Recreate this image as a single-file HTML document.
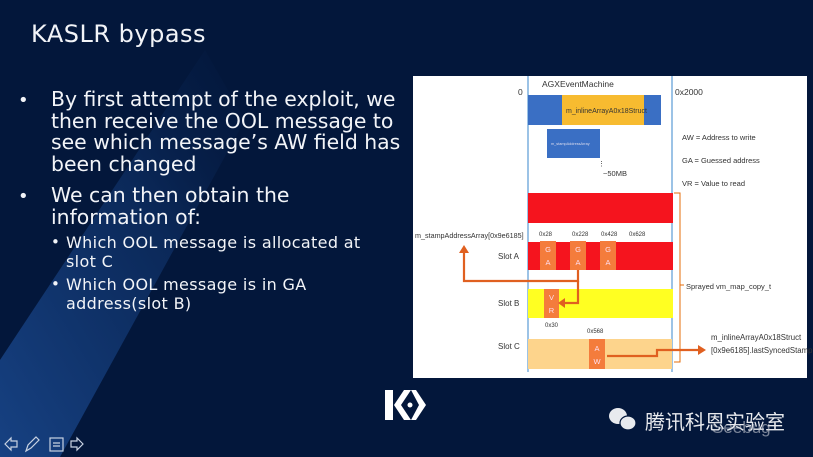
<!DOCTYPE html>
<html><head><meta charset="utf-8"><style>
html,body{margin:0;padding:0;}
body{width:813px;height:457px;overflow:hidden;background:#03173b;position:relative;font-family:"DejaVu Sans","Liberation Sans",sans-serif;}
.t{position:absolute;color:#f2f4f8;white-space:nowrap;}
.b{font-size:20.4px;line-height:21.5px;}
.s{font-size:16px;line-height:19px;letter-spacing:0.35px;}
</style></head><body>
<svg width="813" height="457" style="position:absolute;left:0;top:0">
<defs>
<linearGradient id="g" x1="0" y1="1" x2="1" y2="0">
<stop offset="0" stop-color="#1d4f9a" stop-opacity="0.75"/>
<stop offset="0.6" stop-color="#1a4a92" stop-opacity="0.35"/>
<stop offset="1" stop-color="#0b2a60" stop-opacity="0"/>
</linearGradient>
</defs>
<polygon points="205,50 245,120 60,457 0,457 0,360" fill="url(#g)"/>
</svg>
<div class="t" style="left:31px;top:20px;font-size:24px;letter-spacing:0.5px;">KASLR bypass</div>
<div class="t" style="left:18px;top:90px;font-size:18px;line-height:21.5px;">•</div>
<div class="t b" style="left:51px;top:89px;">By first attempt of the exploit, we<br>then receive the OOL message to<br>see which message’s AW field has<br>been changed</div>
<div class="t" style="left:18px;top:186px;font-size:18px;line-height:21.5px;">•</div>
<div class="t b" style="left:51px;top:185px;">We can then obtain the<br>information of:</div>
<div class="t" style="left:51px;top:233px;font-size:15px;line-height:19px;">•</div>
<div class="t s" style="left:66px;top:233px;">Which OOL message is allocated at<br>slot C</div>
<div class="t" style="left:51px;top:275px;font-size:15px;line-height:19px;">•</div>
<div class="t s" style="left:66px;top:275px;">Which OOL message is in GA<br>address(slot B)</div>

<svg width="813" height="457" style="position:absolute;left:0;top:0" font-family="Liberation Sans, sans-serif">
<rect x="413" y="76" width="394" height="302" fill="#fff"/>
<line x1="528" y1="76" x2="528" y2="372" stroke="#5b9bd5" stroke-width="1.2"/>
<line x1="672" y1="76" x2="672" y2="372" stroke="#5b9bd5" stroke-width="1.2"/>
<text x="542" y="87" font-size="8.5" fill="#333">AGXEventMachine</text>
<text x="518" y="95" font-size="8.5" fill="#333">0</text>
<text x="675" y="95" font-size="8.5" fill="#333">0x2000</text>
<rect x="528" y="95" width="133" height="30" fill="#3a6fc4"/>
<rect x="562" y="95" width="82" height="30" fill="#f7bb30"/>
<text x="566" y="113" font-size="7" fill="#333">m_inlineArrayA0x18Struct</text>
<rect x="547" y="129" width="53" height="29" fill="#3a6fc4"/>
<text x="551" y="145" font-size="3.8" fill="#dde">m_stampAddressArray</text>
<text x="598" y="166" font-size="7" fill="#333">⋮</text>
<text x="603" y="176" font-size="7.5" fill="#333">~50MB</text>
<text x="682" y="140" font-size="7.5" fill="#333">AW = Address to write</text>
<text x="682" y="163" font-size="7.5" fill="#333">GA = Guessed address</text>
<text x="682" y="186" font-size="7.5" fill="#333">VR = Value to read</text>
<rect x="528" y="193" width="145" height="30" fill="#f5141e"/>
<text x="539" y="236" font-size="6" fill="#333">0x28</text>
<text x="572" y="236" font-size="6" fill="#333">0x228</text>
<text x="601" y="236" font-size="6" fill="#333">0x428</text>
<text x="629" y="236" font-size="6" fill="#333">0x628</text>
<text x="415" y="238" font-size="7.2" fill="#333">m_stampAddressArray[0x9e6185]</text>
<rect x="528" y="242" width="145" height="28" fill="#f5141e"/>
<rect x="540" y="241" width="16" height="29" fill="#f47c3c"/>
<rect x="570" y="241" width="16" height="29" fill="#f47c3c"/>
<rect x="600" y="241" width="16" height="29" fill="#f47c3c"/>
<g font-size="7.5" fill="#fde" text-anchor="middle">
<text x="548" y="252">G</text><text x="548" y="265">A</text>
<text x="578" y="252">G</text><text x="578" y="265">A</text>
<text x="608" y="252">G</text><text x="608" y="265">A</text>
</g>
<text x="498" y="259" font-size="8" fill="#333">Slot A</text>
<rect x="528" y="289" width="145" height="29" fill="#ffff22"/>
<rect x="544" y="289" width="15" height="29" fill="#f47c3c"/>
<text x="551.5" y="300" font-size="7.5" fill="#fde" text-anchor="middle">V</text>
<text x="551.5" y="313" font-size="7.5" fill="#fde" text-anchor="middle">R</text>
<text x="498" y="306" font-size="8" fill="#333">Slot B</text>
<text x="545" y="327" font-size="6" fill="#333">0x30</text>
<text x="587" y="333" font-size="6" fill="#333">0x568</text>
<rect x="528" y="339" width="144" height="30" fill="#fdd48c"/>
<rect x="589" y="339" width="16" height="30" fill="#f47c3c"/>
<text x="597" y="351" font-size="7.5" fill="#fde" text-anchor="middle">A</text>
<text x="597" y="364" font-size="7.5" fill="#fde" text-anchor="middle">W</text>
<text x="498" y="349" font-size="8" fill="#333">Slot C</text>
<path d="M674,193 H680 V362 H674 M680,285 H684" fill="none" stroke="#e46c0a" stroke-width="1"/>
<text x="686" y="289" font-size="7.5" fill="#333">Sprayed vm_map_copy_t</text>
<g stroke="#e06020" stroke-width="2.2" fill="none">
<path d="M578,270 V281 H464 V252"/>
<path d="M578,281 V303 H564"/>
<path d="M607,356 H657 V350 H699"/>
</g>
<g fill="#e06020">
<polygon points="459,253 469,253 464,245"/>
<polygon points="565,298 565,308 558,303"/>
<polygon points="698,345 698,355 706,350"/>
</g>
<text x="711" y="340" font-size="7.8" fill="#333">m_inlineArrayA0x18Struct</text>
<text x="711" y="353" font-size="7.8" fill="#333">[0x9e6185].lastSyncedStamp</text>
</svg>
<svg width="50" height="40" style="position:absolute;left:380px;top:387px">
<rect x="5" y="3" width="8" height="30" fill="#fff"/>
<polygon points="14,18 24,3 31,3 21,18 31,33 24,33" fill="#fff"/>
<polygon points="31,3 36,3 46,18 36,33 31,33 39,18" fill="#fff"/>
<circle cx="30" cy="18" r="2.5" fill="#fff"/>
</svg>
<svg width="40" height="30" style="position:absolute;left:606px;top:405px">
<ellipse cx="12" cy="11" rx="9" ry="8" fill="#e8eaee"/>
<ellipse cx="22" cy="18" rx="8" ry="7" fill="#e8eaee" stroke="#03173b" stroke-width="1.2"/>
</svg>
<div class="t" style="left:645px;top:406px;font-size:20px;font-family:'Liberation Sans','Noto Sans CJK SC',sans-serif;color:#e8eaee;">腾讯科恩实验室</div>
<div class="t" style="left:712px;top:418px;font-size:17px;font-family:'Liberation Sans',sans-serif;color:#c8ccd4;opacity:0.6;">Seebug</div>
<svg width="90" height="20" style="position:absolute;left:2px;top:435px" stroke="#c8d2e2" fill="none" stroke-width="1.2">
<path d="M3,9 L9,3 V6 H15 V12 H9 V15 Z"/>
<path d="M24,16 L26,10 L34,2 L37,5 L29,13 Z"/>
<rect x="48" y="3" width="13" height="13"/><path d="M51,8 H58 M51,11 H58"/>
<path d="M81,9 L75,3 V6 H69 V12 H75 V15 Z"/>
</svg>
</body></html>
